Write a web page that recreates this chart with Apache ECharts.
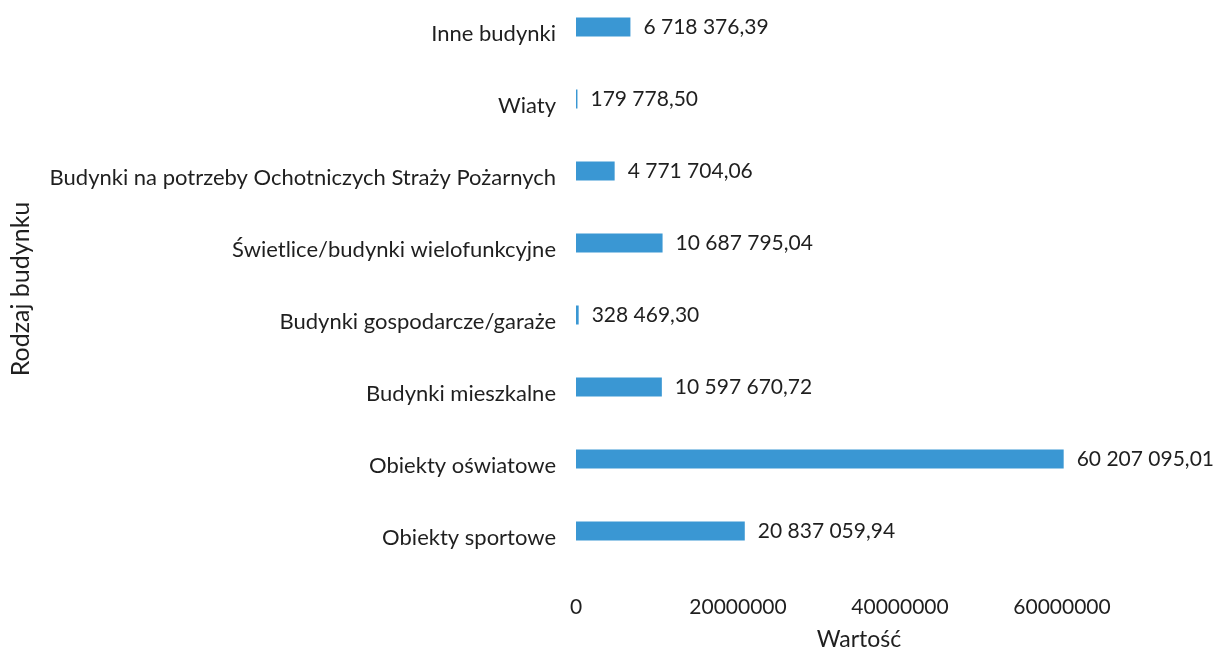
<!DOCTYPE html>
<html>
<head>
<meta charset="utf-8">
<script src="https://cdn.jsdelivr.net/npm/echarts@6/dist/echarts.min.js"></script>
<style>
html, body { margin: 0; padding: 0; background: #fff; overflow: hidden; }
/* wykres w oryginale jest lekko przycięty u góry */
#wykres { position: absolute; left: 0; top: -9px; width: 1224px; height: 665px; }
</style>
</head>
<body>
<div id="wykres"></div>
<script>
// kategorie od dołu do góry (jak na osi)
var kategorie = [
    'Obiekty sportowe',
    'Obiekty oświatowe',
    'Budynki mieszkalne',
    'Budynki gospodarcze/garaże',
    'Świetlice/budynki wielofunkcyjne',
    'Budynki na potrzeby Ochotniczych Straży Pożarnych',
    'Wiaty',
    'Inne budynki'
];
var wartosci = [
    20837059.94,
    60207095.01,
    10597670.72,
    328469.30,
    10687795.04,
    4771704.06,
    179778.50,
    6718376.39
];
var osX = { min: 0, max: 80000000, interval: 20000000 };

var FONT = 'Lato';
var KOLOR_TEKSTU = '#1f1f1f';
var KOLOR_SLUPKA = '#3a97d3';

function formatPL(v) {
    var s = v.toFixed(2).split('.');
    var cz = s[0].replace(/\B(?=(\d{3})+(?!\d))/g, ' ');
    return cz + ',' + s[1];
}

var wykres = echarts.init(document.getElementById('wykres'));
wykres.setOption({
    animation: false,
    textStyle: { fontFamily: FONT },
    grid: {
        left: 576,
        top: 0,
        width: 651,
        height: 577,
        containLabel: false
    },
    xAxis: {
        type: 'value',
        min: osX.min,
        max: osX.max,
        interval: osX.interval,
        name: 'Wartość',
        nameLocation: 'middle',
        nameGap: 61,
        nameTextStyle: {
            color: KOLOR_TEKSTU,
            fontSize: 23,
            fontFamily: FONT,
            padding: [0, 82, 0, 0]
        },
        axisLine: { show: false },
        axisTick: { show: false },
        splitLine: { show: false },
        axisLabel: {
            color: KOLOR_TEKSTU,
            fontSize: 21,
            fontFamily: FONT,
            margin: 30,
            showMaxLabel: false,
            formatter: function (v) { return String(v); }
        }
    },
    yAxis: {
        type: 'category',
        data: kategorie,
        name: 'Rodzaj budynku',
        nameLocation: 'middle',
        nameGap: 543,
        nameRotate: 90,
        nameTextStyle: {
            color: KOLOR_TEKSTU,
            fontSize: 25,
            fontFamily: FONT,
            padding: [0, 20, 0, 0]
        },
        axisLine: { show: false },
        axisTick: { show: false },
        splitLine: { show: false },
        axisLabel: {
            color: KOLOR_TEKSTU,
            fontSize: 22,
            fontFamily: FONT,
            margin: 20,
            verticalAlign: 'top',
            lineHeight: 14
        }
    },
    series: [{
        type: 'bar',
        data: wartosci,
        barWidth: 19,
        itemStyle: { color: KOLOR_SLUPKA },
        label: {
            show: true,
            position: 'right',
            distance: 13,
            color: KOLOR_TEKSTU,
            fontSize: 21,
            fontFamily: FONT,
            formatter: function (p) { return formatPL(p.value); }
        }
    }]
});
</script>
</body>
</html>
